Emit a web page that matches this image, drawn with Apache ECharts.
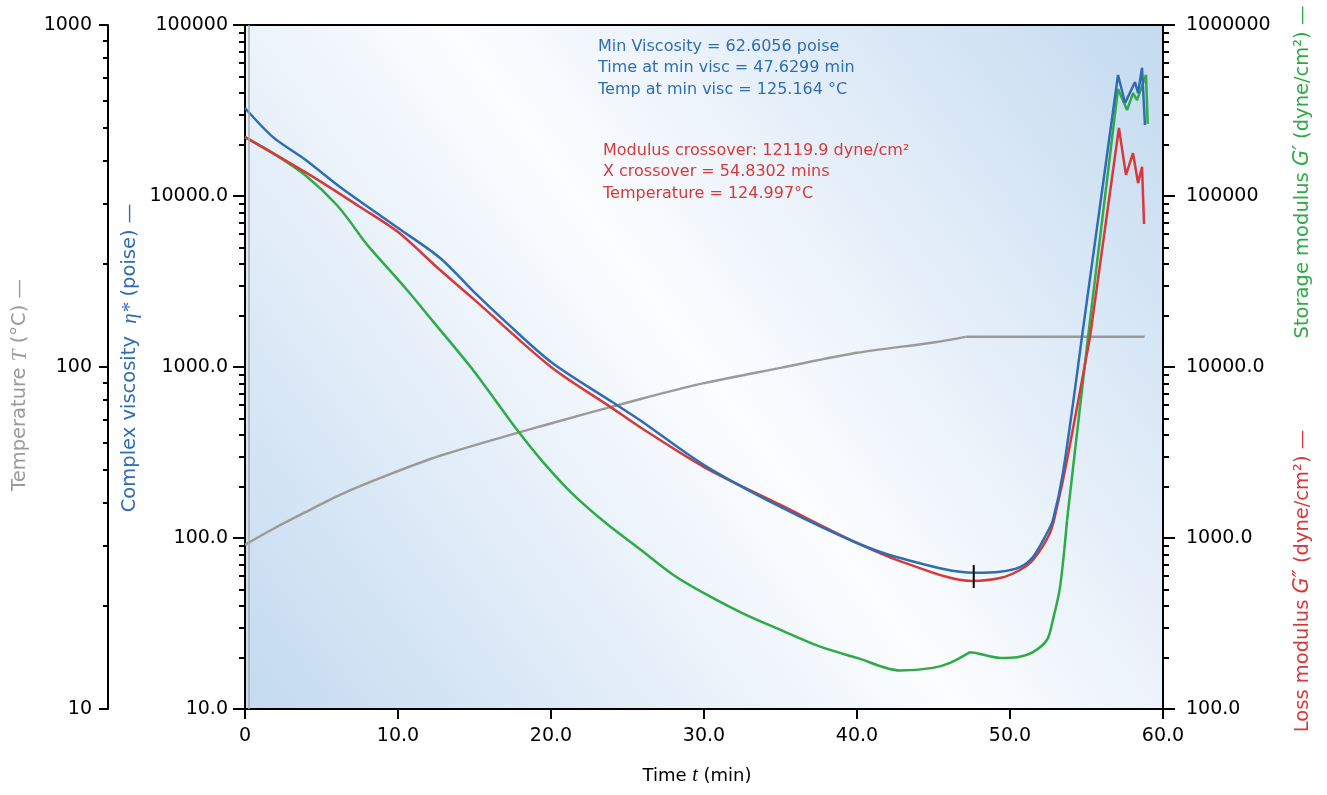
<!DOCTYPE html>
<html>
<head>
<meta charset="utf-8">
<script src="https://cdn.jsdelivr.net/npm/echarts@6/dist/echarts.min.js"></script>
<style>
html,body{margin:0;padding:0;background:#fff;}
#chart{width:1327px;height:795px;}
</style>
</head>
<body>
<div id="chart"></div>
<script>
// complex viscosity eta* (poise)
var viscTime   = [0, 1.83, 3.99, 6.21, 10, 12.75, 15.03, 16.9, 20, 24, 25.8, 30, 35, 40, 42.81, 47.63, 49.35, 50.65, 51.5, 52.42, 52.8, 53.46, 54.7, 57.06, 57.52, 58.17, 58.37, 58.63, 58.82];
var viscValues = [32700, 22100, 16200, 11290, 6500, 4340, 2710, 1885, 1070, 624, 490, 267, 152, 93.5, 76.4, 62.6, 63.5, 67.6, 77.4, 107, 127, 240, 1496, 51000, 35000, 46400, 40000, 56100, 26000];
var viscCuts   = [54.7];

// loss modulus G'' (dyne/cm2)
var lossTime   = [0, 4.05, 7.52, 10, 12.75, 15, 20, 24, 25.8, 30, 35, 40, 42.81, 47.52, 49.35, 50.65, 51.5, 52.61, 53.07, 53.73, 55.23, 57.12, 57.58, 58.04, 58.37, 58.63, 58.76];
var lossValues = [221000, 136000, 86300, 61500, 36900, 24700, 10000, 5750, 4460, 2600, 1560, 935, 733, 561, 583, 650, 743, 1069, 1518, 2860, 14960, 250000, 133000, 178000, 119000, 148000, 68600];
var lossCuts   = [55.23];

// storage modulus G' (dyne/cm2)
var storageTime   = [0, 2, 4, 6, 7.5, 8, 10.59, 12.22, 15, 17.78, 19.48, 21.44, 23.6, 25.8, 28, 30, 32.5, 35, 37.5, 40, 42.8, 44.97, 46.08, 47.39, 47.84, 49.35, 50.46, 51.5, 52.42, 52.8, 53.27, 53.73, 55.1, 57.06, 57.65, 58.04, 58.3, 58.89, 59.0];
var storageValues = [221000, 174000, 131000, 88600, 59100, 51600, 28200, 18800, 9360, 4290, 2780, 1800, 1220, 863, 608, 476, 364, 290, 233, 199, 168, 174, 186, 215, 212, 199, 201, 215, 254, 331, 516, 1274, 14960, 423000, 318000, 400000, 364000, 510000, 264000];
var storageCuts   = [7.5, 47.39, 53.73];

// temperature T (deg C)
var tempTime   = [0, 1.83, 3.99, 6.21, 9.48, 12.75, 19.28, 25.8, 30, 35, 40, 45, 47.1, 58.8];
var tempValues = [30.2, 33.6, 37.7, 42.3, 48.6, 55.0, 67.0, 80.5, 89.7, 99.4, 110, 118, 122.5, 122.5];
var tempCuts   = [47.1];

// min viscosity marker
var minViscTime = 47.6299;
var minMarkRange = [69.5, 51];
var startLineTime = 0.25;

// ticks
var xTicks = [0, 10, 20, 30, 40, 50, 60];
var xTickLabels = ['0', '10.0', '20.0', '30.0', '40.0', '50.0', '60.0'];
var viscTicks = [10, 100, 1000, 10000, 100000];
var viscTickLabels = ['10.0', '100.0', '1000.0', '10000.0', '100000'];
var tempTicks = [10, 100, 1000];
var tempTickLabels = ['10', '100', '1000'];
var modTicks = [100, 1000, 10000, 100000, 1000000];
var modTickLabels = ['100.0', '1000.0', '10000.0', '100000', '1000000'];

var infoVisc = ['Min Viscosity = 62.6056 poise', 'Time at min visc = 47.6299 min', 'Temp at min visc = 125.164 \u00b0C'];
var infoCross = ['Modulus crossover: 12119.9 dyne/cm\u00b2', 'X crossover = 54.8302 mins', 'Temperature = 124.997\u00b0C'];

// split a curve at corner times; the last piece is drawn straight
function segments(t, v, cuts) {
	var segs = [[]], c = 0;
	for (var i = 0; i < t.length; i++) {
		segs[segs.length - 1].push([t[i], v[i]]);
		if (c < cuts.length && Math.abs(t[i] - cuts[c]) < 1e-9) {
			segs.push([[t[i], v[i]]]);
			c++;
		}
	}
	return segs;
}
function minorTicks(majors) {
	var out = [];
	for (var i = 0; i < majors.length - 1; i++) {
		for (var k = 2; k <= 9; k++) out.push(majors[i] * k);
	}
	return out;
}
function labelFrom(ticks, labels) {
	return function (v) {
		for (var i = 0; i < ticks.length; i++) {
			if (Math.abs(v - ticks[i]) <= Math.abs(ticks[i]) * 1e-6 + 1e-9) return labels[i];
		}
		return '';
	};
}

var FONT = '"DejaVu Sans", "Open Sans", sans-serif';
var SERIF = '"Liberation Serif", "DejaVu Serif", serif';
var BLUE = '#2f6db3', RED = '#d6393a', GREEN = '#2eaa47', GREY = '#9a9a9a';

function majorAxis(min, max, pos, offset, ticks, labels, margin, tickLen) {
	return {
		type: 'log', logBase: 10, min: min, max: max, position: pos, offset: offset,
		axisLine: {show: true, onZero: false, lineStyle: {color: '#000', width: 2}},
		axisTick: {show: true, inside: false, length: tickLen, customValues: ticks, lineStyle: {color: '#000', width: 2}},
		axisLabel: {show: true, margin: margin, fontSize: 19, color: '#000', fontFamily: FONT,
			customValues: ticks, formatter: labelFrom(ticks, labels)},
		splitLine: {show: false}
	};
}
function minorAxis(min, max, pos, offset, ticks, tickLen) {
	return {
		type: 'log', logBase: 10, min: min, max: max, position: pos, offset: offset,
		axisLine: {show: false},
		axisTick: {show: true, inside: false, length: tickLen, customValues: minorTicks(ticks), lineStyle: {color: '#000', width: 2}},
		axisLabel: {show: false},
		splitLine: {show: false}
	};
}
function curve(name, t, v, cuts, axisIndex, color) {
	var segs = segments(t, v, cuts);
	var list = [];
	for (var i = 0; i < segs.length; i++) {
		var last = (i === segs.length - 1);
		list.push({
			name: name, type: 'line', yAxisIndex: axisIndex, data: segs[i],
			showSymbol: false, smooth: last ? false : 0.3,
			lineStyle: {color: color, width: 2.5}, itemStyle: {color: color}
		});
	}
	return list;
}
function axisTitle(x, y, parts, color) {
	return {type: 'text', x: x, y: y, rotation: Math.PI / 2, silent: true,
		style: {text: '{a|' + parts[0] + '}{i|' + parts[1] + '}{a|' + parts[2] + '}', align: 'center', verticalAlign: 'middle',
			rich: {
				a: {fontSize: 19.5, fill: color, fontFamily: FONT},
				i: {fontSize: 21, fill: color, fontStyle: 'italic', fontFamily: parts[3] || FONT}
			}}};
}

var myChart = echarts.init(document.getElementById('chart'));

var series = [];
series = series.concat(curve('Temperature', tempTime, tempValues, tempCuts, 1, GREY));
series[0].markLine = {silent: true, symbol: 'none', label: {show: false},
	lineStyle: {color: '#aaa', width: 1.5, type: 'solid'}, data: [{xAxis: startLineTime}]};
series = series.concat(curve('Storage modulus', storageTime, storageValues, storageCuts, 2, GREEN));
series = series.concat(curve('Loss modulus', lossTime, lossValues, lossCuts, 2, RED));
series = series.concat(curve('Complex viscosity', viscTime, viscValues, viscCuts, 0, BLUE));
series.push({
	name: 'Min marker', type: 'line', yAxisIndex: 0,
	data: [[minViscTime, minMarkRange[0]], [minViscTime, minMarkRange[1]]],
	showSymbol: false, lineStyle: {color: '#000', width: 2}, z: 5
});

var option = {
	animation: false,
	backgroundColor: '#fff',
	grid: {
		left: 245, right: 164, top: 25, bottom: 86,
		show: true, borderWidth: 2, borderColor: '#000',
		backgroundColor: new echarts.graphic.LinearGradient(0, 1, 1, 0, [
			{offset: 0, color: '#c3daf0'},
			{offset: 0.5, color: '#fcfdff'},
			{offset: 1, color: '#c3daf0'}
		])
	},
	xAxis: {
		type: 'value', min: 0, max: 60, interval: 10,
		axisLine: {show: true, onZero: false, lineStyle: {color: '#000', width: 2}},
		axisTick: {show: true, inside: false, length: 10, lineStyle: {color: '#000', width: 2}},
		axisLabel: {margin: 18, fontSize: 19, color: '#000', fontFamily: FONT, formatter: labelFrom(xTicks, xTickLabels)},
		splitLine: {show: false}
	},
	yAxis: [
		majorAxis(10, 100000, 'left', 0, viscTicks, viscTickLabels, 17, 12),
		majorAxis(10, 1000, 'left', 137, tempTicks, tempTickLabels, 16, 9),
		majorAxis(100, 1000000, 'right', 0, modTicks, modTickLabels, 23, 12),
		minorAxis(10, 100000, 'left', 0, viscTicks, 6),
		minorAxis(10, 1000, 'left', 137, tempTicks, 5),
		minorAxis(100, 1000000, 'right', 0, modTicks, 6)
	],
	graphic: [
		axisTitle(20, 385, ['Temperature ', 'T', ' (\u00b0C) \u2014', SERIF], GREY),
		axisTitle(130, 358, ['Complex viscosity  ', '\u03b7*', ' (poise) \u2014', SERIF], BLUE),
		axisTitle(1303, 172, ['Storage modulus ', 'G\u2032', ' (dyne/cm\u00b2) \u2014'], GREEN),
		axisTitle(1303, 581, ['Loss modulus ', 'G\u2033', ' (dyne/cm\u00b2) \u2014'], RED),
		{type: 'text', x: 697, y: 776, silent: true,
			style: {text: '{a|Time }{i|t}{a| (min)}', align: 'center', verticalAlign: 'middle',
				rich: {a: {fontSize: 18, fill: '#000', fontFamily: FONT}, i: {fontSize: 20, fill: '#000', fontStyle: 'italic', fontFamily: SERIF}}}},
		{type: 'text', left: 598, top: 36, silent: true,
			style: {text: infoVisc.join('\n'), fontSize: 16, lineHeight: 21.5, fill: BLUE, fontFamily: FONT}},
		{type: 'text', left: 603, top: 140, silent: true,
			style: {text: infoCross.join('\n'), fontSize: 16, lineHeight: 21.5, fill: RED, fontFamily: FONT}}
	],
	series: series
};
myChart.setOption(option);
</script>
</body>
</html>
